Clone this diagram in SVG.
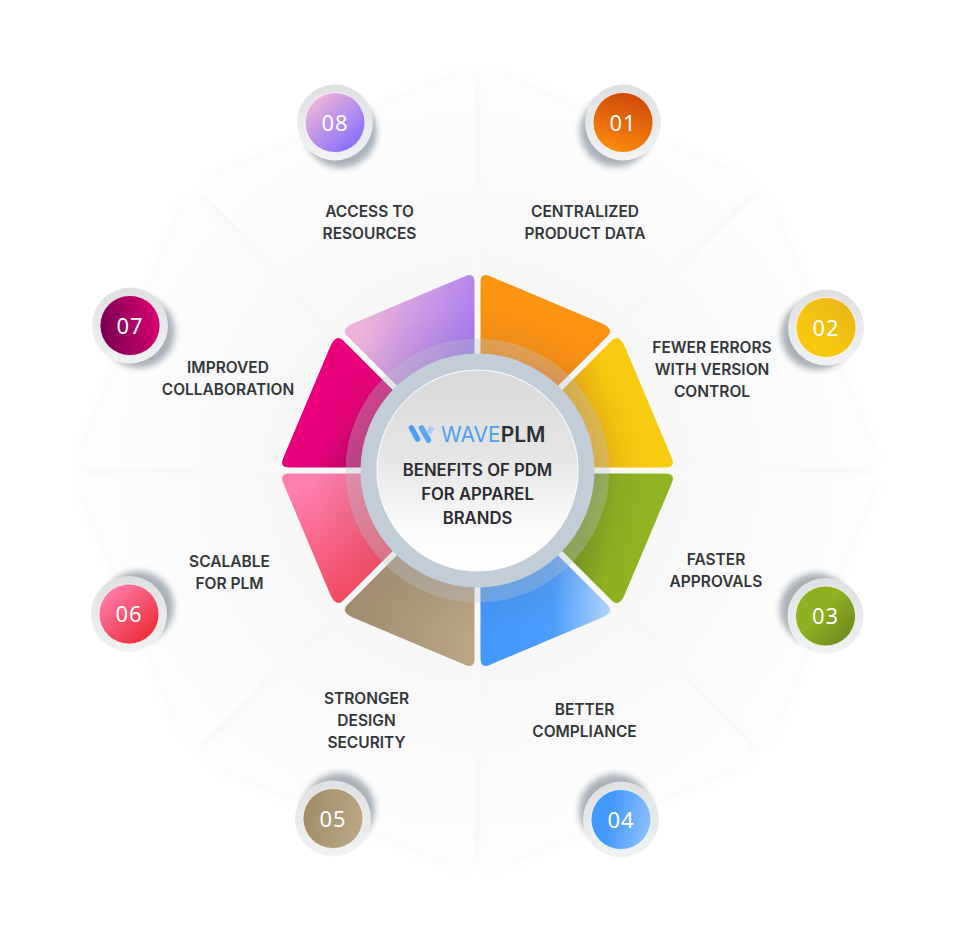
<svg xmlns="http://www.w3.org/2000/svg" width="957" height="942" viewBox="0 0 957 942">
<style>
.lb{font-family:Inter,"Noto Sans","Liberation Sans",sans-serif;font-weight:600;font-size:15.5px;fill:#34373a;text-anchor:middle}
.ct{font-family:Inter,"Noto Sans","Liberation Sans",sans-serif;font-weight:600;font-size:16.7px;fill:#2a2c30;text-anchor:middle}
.num{font-family:"Noto Sans","Open Sans","Liberation Sans",sans-serif;font-weight:400;font-size:22px;letter-spacing:1px;fill:#fff;text-anchor:middle}
.logo{font-family:Inter,"Noto Sans","Liberation Sans",sans-serif;font-size:21px}
.petal{fill:url(#pf);filter:url(#ps)}
.ring{fill:url(#rg)}
.sh{fill:#76838f;opacity:.62;filter:url(#bs)}
.rim{stroke:#fff;stroke-opacity:.7;stroke-width:1}
</style>
<defs>
<radialGradient id="pf" gradientUnits="userSpaceOnUse" cx="477.5" cy="470.5" r="410"><stop offset=".4" stop-color="#f6f6f6"/><stop offset=".75" stop-color="#fbfbfb"/><stop offset="1" stop-color="#fefefe"/></radialGradient>
<filter id="ps" x="-20%" y="-20%" width="140%" height="140%"><feDropShadow dx="0" dy="0" stdDeviation="7" flood-color="#000" flood-opacity=".04"/></filter>
<filter id="bs" x="-40%" y="-40%" width="180%" height="180%"><feGaussianBlur stdDeviation="3"/></filter>
<linearGradient id="rg" x1="0" y1="0" x2="0" y2="1"><stop offset="0" stop-color="#dfe0e1"/><stop offset="1" stop-color="#f1f2f3"/></linearGradient>
<linearGradient id="w1" gradientUnits="userSpaceOnUse" x1="540" y1="300" x2="520" y2="400"><stop offset="0" stop-color="#fc9413"/><stop offset=".55" stop-color="#fb9013"/><stop offset="1" stop-color="#e66f18"/></linearGradient>
<linearGradient id="w2" gradientUnits="userSpaceOnUse" x1="650" y1="420" x2="580" y2="440"><stop offset="0" stop-color="#f7cc10"/><stop offset=".5" stop-color="#f6c70f"/><stop offset="1" stop-color="#eda813"/></linearGradient>
<linearGradient id="w3" gradientUnits="userSpaceOnUse" x1="660" y1="500" x2="590" y2="490"><stop offset="0" stop-color="#92b322"/><stop offset=".6" stop-color="#8eb020"/><stop offset="1" stop-color="#7c9d24"/></linearGradient>
<linearGradient id="w4" gradientUnits="userSpaceOnUse" x1="480" y1="600" x2="612" y2="600"><stop offset="0" stop-color="#4398fe"/><stop offset=".55" stop-color="#4c9dfd"/><stop offset="1" stop-color="#b6d5fb"/></linearGradient>
<linearGradient id="w5" gradientUnits="userSpaceOnUse" x1="342" y1="610" x2="475" y2="610"><stop offset="0" stop-color="#9e8a6c"/><stop offset="1" stop-color="#bba685"/></linearGradient>
<linearGradient id="w6" gradientUnits="userSpaceOnUse" x1="295" y1="490" x2="365" y2="600"><stop offset="0" stop-color="#fe7fb0"/><stop offset="1" stop-color="#ef4558"/></linearGradient>
<linearGradient id="w7" gradientUnits="userSpaceOnUse" x1="310" y1="400" x2="380" y2="450"><stop offset="0" stop-color="#ea007a"/><stop offset=".5" stop-color="#e5007a"/><stop offset="1" stop-color="#b10062"/></linearGradient>
<linearGradient id="w8" gradientUnits="userSpaceOnUse" x1="365" y1="320" x2="465" y2="360"><stop offset="0" stop-color="#ecb2da"/><stop offset="1" stop-color="#a67bf0"/></linearGradient>
<linearGradient id="b1" x1=".7" y1="0" x2=".4" y2="1"><stop offset="0" stop-color="#cc4606"/><stop offset="1" stop-color="#fb8c10"/></linearGradient>
<linearGradient id="b2" x1="1" y1="0" x2=".3" y2=".7"><stop offset="0" stop-color="#e8b41a"/><stop offset="1" stop-color="#f6c90f"/></linearGradient>
<linearGradient id="b3" x1=".2" y1=".2" x2="1" y2=".9"><stop offset=".3" stop-color="#8fb021"/><stop offset="1" stop-color="#6a851e"/></linearGradient>
<linearGradient id="b4" x1="0" y1=".4" x2="1" y2=".6"><stop offset=".3" stop-color="#4499fd"/><stop offset="1" stop-color="#8ebffc"/></linearGradient>
<linearGradient id="b5" x1="0" y1=".4" x2="1" y2=".6"><stop offset="0" stop-color="#a18c66"/><stop offset="1" stop-color="#baa785"/></linearGradient>
<linearGradient id="b6" x1=".15" y1=".1" x2=".85" y2=".9"><stop offset="0" stop-color="#ff7dad"/><stop offset="1" stop-color="#ec2c34"/></linearGradient>
<linearGradient id="b7" x1="0" y1=".6" x2="1" y2=".4"><stop offset="0" stop-color="#760052"/><stop offset="1" stop-color="#da0072"/></linearGradient>
<linearGradient id="b8" x1=".15" y1=".1" x2=".85" y2=".9"><stop offset="0" stop-color="#efb5da"/><stop offset="1" stop-color="#866dfc"/></linearGradient>
<radialGradient id="shade" gradientUnits="userSpaceOnUse" cx="477.5" cy="470.5" r="165"><stop offset=".7" stop-color="#5a4a40" stop-opacity=".1"/><stop offset="1" stop-color="#5a4a40" stop-opacity="0"/></radialGradient>
<linearGradient id="disc" x1="0" y1="0" x2="0" y2="1"><stop offset="0" stop-color="#dadada"/><stop offset=".45" stop-color="#e6e6e6"/><stop offset=".8" stop-color="#fbfbfb"/><stop offset="1" stop-color="#fff"/></linearGradient>
<clipPath id="wedges">
<path d="M480.5 282.5Q480.5 272.5 489.5 276L601 323Q615 329 607.5 336.3L480.5 463.3Z"/>
<path d="M665.5 467.5Q675.5 467.5 672 458.5L625 347Q619 333 611.7 340.5L484.7 467.5Z"/>
<path d="M665.5 473.5Q675.5 473.5 672 482.5L625 594Q619 608 611.7 600.5L484.7 473.5Z"/>
<path d="M480.5 658.5Q480.5 668.5 489.5 665L601 618Q615 612 607.5 604.7L480.5 477.7Z"/>
<path d="M474.5 658.5Q474.5 668.5 465.5 665L354 618Q340 612 347.5 604.7L474.5 477.7Z"/>
<path d="M289.5 473.5Q279.5 473.5 283 482.5L330 594Q336 608 343.3 600.5L470.3 473.5Z"/>
<path d="M289.5 467.5Q279.5 467.5 283 458.5L330 347Q336 333 343.3 340.5L470.3 467.5Z"/>
<path d="M474.5 282.5Q474.5 272.5 465.5 276L354 323Q340 329 347.5 336.3L474.5 463.3Z"/>
</clipPath>
</defs>
<rect width="957" height="942" fill="#fff"/>
<g id="petals">
<path class="petal" d="M480.5 90.5Q480.5 68.5 499.5 76.5L735.5 174.5Q759.5 186.5 742.5 203.5L480.5 463.5Z"/>
<path class="petal" d="M857.5 467.5Q879.5 467.5 871.5 448.5L773.5 212.5Q761.5 188.5 744.5 205.5L484.5 467.5Z"/>
<path class="petal" d="M857.5 473.5Q879.5 473.5 871.5 492.5L773.5 728.5Q761.5 752.5 744.5 735.5L484.5 473.5Z"/>
<path class="petal" d="M480.5 850.5Q480.5 872.5 499.5 864.5L735.5 766.5Q759.5 754.5 742.5 737.5L480.5 477.5Z"/>
<path class="petal" d="M474.5 850.5Q474.5 872.5 455.5 864.5L219.5 766.5Q195.5 754.5 212.5 737.5L474.5 477.5Z"/>
<path class="petal" d="M97.5 473.5Q75.5 473.5 83.5 492.5L181.5 728.5Q193.5 752.5 210.5 735.5L470.5 473.5Z"/>
<path class="petal" d="M97.5 467.5Q75.5 467.5 83.5 448.5L181.5 212.5Q193.5 188.5 210.5 205.5L470.5 467.5Z"/>
<path class="petal" d="M474.5 90.5Q474.5 68.5 455.5 76.5L219.5 174.5Q195.5 186.5 212.5 203.5L474.5 463.5Z"/>
</g>
<g id="wedge-group">
<path fill="url(#w1)" d="M480.5 282.5Q480.5 272.5 489.5 276L601 323Q615 329 607.5 336.3L480.5 463.3Z"/>
<path fill="url(#w2)" d="M665.5 467.5Q675.5 467.5 672 458.5L625 347Q619 333 611.7 340.5L484.7 467.5Z"/>
<path fill="url(#w3)" d="M665.5 473.5Q675.5 473.5 672 482.5L625 594Q619 608 611.7 600.5L484.7 473.5Z"/>
<path fill="url(#w4)" d="M480.5 658.5Q480.5 668.5 489.5 665L601 618Q615 612 607.5 604.7L480.5 477.7Z"/>
<path fill="url(#w5)" d="M474.5 658.5Q474.5 668.5 465.5 665L354 618Q340 612 347.5 604.7L474.5 477.7Z"/>
<path fill="url(#w6)" d="M289.5 473.5Q279.5 473.5 283 482.5L330 594Q336 608 343.3 600.5L470.3 473.5Z"/>
<path fill="url(#w7)" d="M289.5 467.5Q279.5 467.5 283 458.5L330 347Q336 333 343.3 340.5L470.3 467.5Z"/>
<path fill="url(#w8)" d="M474.5 282.5Q474.5 272.5 465.5 276L354 323Q340 329 347.5 336.3L474.5 463.3Z"/>
<circle cx="477.5" cy="470.5" r="165" fill="url(#shade)" clip-path="url(#wedges)"/>
</g>
<g id="center">
<circle cx="477.5" cy="470.5" r="132" fill="#bcc4cc" fill-opacity=".32"/>
<circle cx="477.5" cy="470.5" r="117" fill="#c3cdd8"/>
<circle cx="477.5" cy="470.5" r="100.5" fill="url(#disc)" stroke="#fff" stroke-width="1"/>
<g id="logo-mark" fill="none" stroke-width="5.5">
<path d="M411.5 428L417.5 439" stroke="#4f9ef5" stroke-linecap="round"/>
<path d="M421.5 428L428.5 440" stroke="#5aa6f6" stroke-linecap="round"/>
<path d="M432 427L429 433" stroke="#a9cdf6"/>
</g>
<text class="logo" x="441" y="442"><tspan fill="#4f9ef5" font-weight="400">WAVE</tspan><tspan fill="#2b2f36" font-weight="600">PLM</tspan></text>
<text class="ct" x="477.5" y="476">BENEFITS OF PDM</text>
<text class="ct" x="477.5" y="500">FOR APPAREL</text>
<text class="ct" x="477.5" y="524">BRANDS</text>
</g>
<g id="connectors"></g>
<g id="node-01"><circle class="sh" cx="616" cy="131" r="36"/><circle class="ring" cx="623" cy="122.5" r="38"/><circle class="rim" cx="623" cy="122.5" r="30" fill="url(#b1)"/><text class="num" x="623" y="130.5">01</text><text class="lb" x="585" y="217">CENTRALIZED</text><text class="lb" x="585" y="239">PRODUCT DATA</text></g>
<g id="node-02"><circle class="sh" cx="817" cy="334" r="36"/><circle class="ring" cx="826" cy="327.5" r="38"/><circle class="rim" cx="826" cy="327.5" r="30" fill="url(#b2)"/><text class="num" x="826" y="335.5">02</text><text class="lb" x="712" y="353">FEWER ERRORS</text><text class="lb" x="712" y="375">WITH VERSION</text><text class="lb" x="712" y="397">CONTROL</text></g>
<g id="node-03"><circle class="sh" cx="816" cy="609" r="36"/><circle class="ring" cx="825.5" cy="616" r="38"/><circle class="rim" cx="825.5" cy="616" r="30" fill="url(#b3)"/><text class="num" x="825.5" y="624">03</text><text class="lb" x="716" y="565">FASTER</text><text class="lb" x="716" y="587">APPROVALS</text></g>
<g id="node-04"><circle class="sh" cx="615" cy="810" r="36"/><circle class="ring" cx="621" cy="819.5" r="38"/><circle class="rim" cx="621" cy="819.5" r="30" fill="url(#b4)"/><text class="num" x="621" y="827.5">04</text><text class="lb" x="584.5" y="714.5">BETTER</text><text class="lb" x="584.5" y="736.5">COMPLIANCE</text></g>
<g id="node-05"><circle class="sh" cx="339" cy="809" r="36"/><circle class="ring" cx="333" cy="818.5" r="38"/><circle class="rim" cx="333" cy="818.5" r="30" fill="url(#b5)"/><text class="num" x="333" y="826.5">05</text><text class="lb" x="366.5" y="703.5">STRONGER</text><text class="lb" x="366.5" y="725.5">DESIGN</text><text class="lb" x="366.5" y="747.5">SECURITY</text></g>
<g id="node-06"><circle class="sh" cx="138" cy="607" r="36"/><circle class="ring" cx="129" cy="614" r="38"/><circle class="rim" cx="129" cy="614" r="30" fill="url(#b6)"/><text class="num" x="129" y="622">06</text><text class="lb" x="229.5" y="566.5">SCALABLE</text><text class="lb" x="229.5" y="588.5">FOR PLM</text></g>
<g id="node-07"><circle class="sh" cx="139" cy="332" r="36"/><circle class="ring" cx="130" cy="325.5" r="38"/><circle class="rim" cx="130" cy="325.5" r="30" fill="url(#b7)"/><text class="num" x="130" y="333.5">07</text><text class="lb" x="228" y="373">IMPROVED</text><text class="lb" x="228" y="395">COLLABORATION</text></g>
<g id="node-08"><circle class="sh" cx="341" cy="132" r="36"/><circle class="ring" cx="335" cy="122.5" r="38"/><circle class="rim" cx="335" cy="122.5" r="30" fill="url(#b8)"/><text class="num" x="335" y="130.5">08</text><text class="lb" x="369.5" y="217">ACCESS TO</text><text class="lb" x="369.5" y="239">RESOURCES</text></g>
</svg>
